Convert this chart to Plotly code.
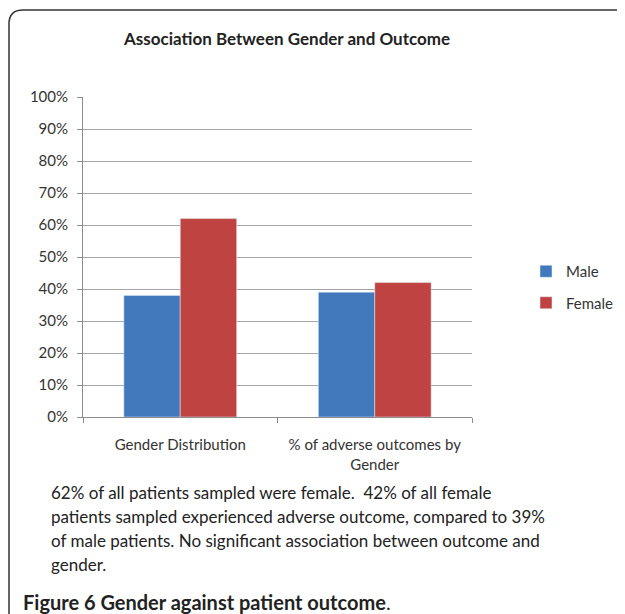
import plotly.graph_objects as go

categories = ["Gender Distribution", "% of adverse outcomes by<br>Gender"]
male = [38, 39]
female = [62, 42]
y_ticks = [0, 10, 20, 30, 40, 50, 60, 70, 80, 90, 100]
y_tick_labels = [f"{v}%" for v in y_ticks]

title = "Association Between Gender and Outcome"
caption_lines = [
    "62% of all patients sampled were female.  42% of all female",
    "patients sampled experienced adverse outcome, compared to 39%",
    "of male patients. No significant association between outcome and",
    "gender.",
]
fig_caption = "<b>Figure 6 Gender against patient outcome</b>."

FONT = "Lato, 'Open Sans', sans-serif"

fig = go.Figure()
fig.add_trace(go.Bar(x=categories, y=male, name="Male", marker_color="#4279BD",
                     legendgroup="m"))
fig.add_trace(go.Bar(x=categories, y=female, name="Female", marker_color="#BF4441",
                     legendgroup="f"))

# page body has an 8px margin; work in reference pixel coords shifted by 8
OFF = 8
W, H = 625 - OFF, 614 - OFF
L, R, T, B = 83 - OFF, 472 - OFF, 97 - OFF, 417 - OFF

def px(xr):
    return ((xr - OFF) - L) / (R - L)

def py(yr):
    return (B - (yr - OFF)) / (B - T)

annotations = [
    dict(text=f"<b>{title}</b>", xref="paper", yref="paper",
         x=px(286), y=py(38), xanchor="center", yanchor="middle",
         showarrow=False, font=dict(size=17, color="#222222")),
    dict(text=fig_caption, xref="paper", yref="paper", x=px(21), y=py(602),
         xanchor="left", yanchor="middle", align="left", showarrow=False,
         font=dict(size=20, color="#222222")),
]
for i, line in enumerate(caption_lines):
    annotations.append(dict(text=line, xref="paper", yref="paper",
                            x=px(49), y=py(492 + 24 * i), xanchor="left",
                            yanchor="middle", align="left", showarrow=False,
                            font=dict(size=17, color="#222222")))

fig.update_layout(
    width=W, height=H,
    margin=dict(l=L, r=W - R, t=T, b=H - B, autoexpand=False),
    paper_bgcolor="white", plot_bgcolor="white",
    barmode="group", bargap=0.42, bargroupgap=0,
    font=dict(family=FONT, size=13, color="#333333"),
    showlegend=True,
    legend=dict(x=px(526), y=py(255), xanchor="left", yanchor="top",
                font=dict(size=15, color="#333333"), tracegroupgap=9,
                itemwidth=30, bgcolor="rgba(0,0,0,0)", borderwidth=0),
    xaxis=dict(showgrid=False, showline=True, linecolor="#8c8c8c", linewidth=1,
               ticks="outside", ticklen=5, tickcolor="#8c8c8c",
               tickson="boundaries", ticklabelstandoff=14,
               tickfont=dict(size=15, color="#333333")),
    yaxis=dict(range=[0, 100], tickvals=y_ticks, ticktext=y_tick_labels,
               showgrid=True, gridcolor="#a6a6a6", gridwidth=1,
               showline=True, linecolor="#8c8c8c", linewidth=1,
               ticks="outside", ticklen=5, tickcolor="#8c8c8c",
               ticklabelstandoff=6,
               zeroline=False, tickfont=dict(size=15, color="#333333")),
    annotations=annotations,
    shapes=[
        dict(type="path", xref="paper", yref="paper",
             path=(f"M {px(9)} {py(640)} L {px(9)} {py(24)} "
                   f"Q {px(9)} {py(10)} {px(23)} {py(10)} L {px(660)} {py(10)}"),
             line=dict(color="#333333", width=1.5)),
    ],
)

fig.write_html("out.html")
